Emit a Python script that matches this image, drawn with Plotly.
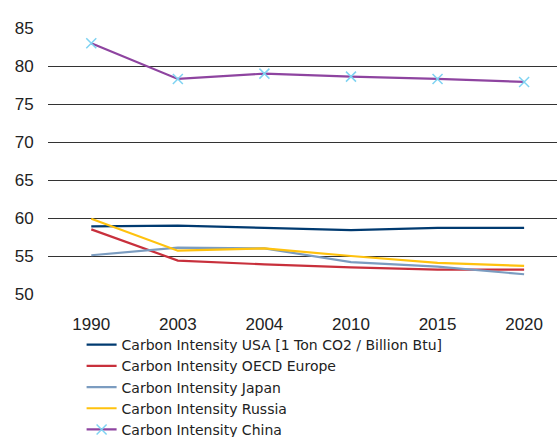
import plotly.graph_objects as go

years = ["1990", "2003", "2004", "2010", "2015", "2020"]
usa = [58.9, 59.0, 58.7, 58.4, 58.7, 58.7]
europe = [58.5, 54.4, 53.9, 53.5, 53.2, 53.2]
japan = [55.1, 56.1, 56.0, 54.2, 53.6, 52.6]
russia = [59.9, 55.7, 56.0, 55.0, 54.1, 53.7]
china = [83.0, 78.3, 79.0, 78.6, 78.3, 77.9]

names = [
    "Carbon Intensity USA [1 Ton CO2 / Billion Btu]",
    "Carbon Intensity OECD Europe",
    "Carbon Intensity Japan",
    "Carbon Intensity Russia",
    "Carbon Intensity China",
]
colors = ["#003a70", "#c8303c", "#7b9cc0", "#ffc20e", "#8e44a0"]
series = [usa, europe, japan, russia, china]

fig = go.Figure()
for name, vals, col in zip(names, series, colors):
    if name.endswith("China"):
        fig.add_trace(go.Scatter(
            x=years, y=vals, name=name, mode="lines+markers",
            line=dict(color=col, width=2.2),
            marker=dict(symbol="x-thin", size=10, line=dict(color="#7fd3f2", width=1.5), color="#7fd3f2"),
        ))
    else:
        fig.add_trace(go.Scatter(
            x=years, y=vals, name=name, mode="lines",
            line=dict(color=col, width=2.2),
        ))

fig.update_layout(
    width=557, height=437,
    margin=dict(l=48, r=0, t=28, b=143, autoexpand=False),
    paper_bgcolor="white", plot_bgcolor="white",
    font=dict(family="Liberation Sans, Arial, sans-serif", size=17, color="#222"),
    showlegend=True,
    legend=dict(
        x=0.066, y=0.247, xanchor="left", yanchor="top", yref="container",
        font=dict(family="DejaVu Sans, sans-serif", size=14, color="#222"),
        bgcolor="rgba(0,0,0,0)",
        tracegroupgap=0,
    ),
    xaxis=dict(
        type="category", range=[-0.5, 5.38],
        showgrid=False, zeroline=False, showline=False,
        ticks="outside", ticklen=15, tickcolor="rgba(0,0,0,0)",
        tickfont=dict(size=17, color="#222"),
    ),
    yaxis=dict(
        range=[50, 85], dtick=5,
        showgrid=True, gridcolor="#333", gridwidth=1,
        zeroline=False, showline=False,
        ticks="outside", ticklen=10, tickcolor="rgba(0,0,0,0)",
        tickfont=dict(size=17, color="#222"),
    ),
)

fig.write_html("out.html", config={"displayModeBar": False},
               post_script="document.body.style.margin='0';")
